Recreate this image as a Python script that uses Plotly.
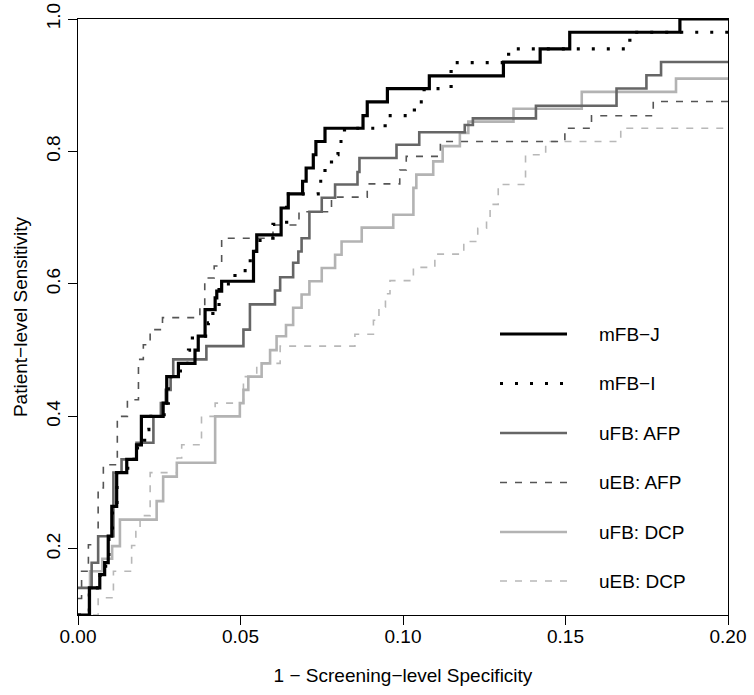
import plotly.graph_objects as go

# ---------------- data ----------------
x_ticks = [0.0, 0.05, 0.10, 0.15, 0.20]
x_tick_labels = ["0.00", "0.05", "0.10", "0.15", "0.20"]
y_ticks = [0.2, 0.4, 0.6, 0.8, 1.0]
y_tick_labels = ["0.2", "0.4", "0.6", "0.8", "1.0"]

series_names = ["mFB−J", "mFB−I", "uFB: AFP", "uEB: AFP", "uFB: DCP", "uEB: DCP"]

mfb_j_x = [0, 0.0035, 0.0067, 0.0082, 0.0093, 0.0104, 0.0119, 0.015, 0.018, 0.0195,
           0.0262, 0.0273, 0.0309, 0.036, 0.037, 0.0391, 0.0422, 0.0427, 0.0442, 0.054,
           0.055, 0.0625, 0.0647, 0.0691, 0.0702, 0.0724, 0.0732, 0.076, 0.0877, 0.089,
           0.0952, 0.1081, 0.1309, 0.1422, 0.1513, 0.1852, 0.2]
mfb_j_y = [0.1, 0.141, 0.161, 0.179, 0.219, 0.264, 0.315, 0.335, 0.357, 0.40,
           0.42, 0.46, 0.48, 0.50, 0.521, 0.561, 0.579, 0.589, 0.604, 0.649,
           0.674, 0.7146, 0.736, 0.755, 0.775, 0.795, 0.815, 0.835, 0.854, 0.875,
           0.895, 0.914, 0.935, 0.955, 0.980, 1.0, 1.0]

mfb_i_x = [0, 0.0035, 0.0068, 0.0085, 0.0095, 0.0106, 0.012, 0.0153, 0.0183, 0.0205,
           0.0218, 0.0265, 0.0278, 0.0315, 0.034, 0.0352, 0.0401, 0.0415, 0.0434, 0.0483,
           0.053, 0.056, 0.060, 0.0642, 0.0739, 0.076, 0.078, 0.080, 0.082, 0.0945,
           0.1035, 0.1065, 0.1148, 0.1325, 0.1698, 0.2]
mfb_i_y = [0.1, 0.141, 0.161, 0.179, 0.219, 0.264, 0.315, 0.335, 0.357, 0.38,
           0.40, 0.42, 0.46, 0.48, 0.50, 0.521, 0.541, 0.561, 0.60, 0.62,
           0.649, 0.669, 0.69, 0.736, 0.755, 0.775, 0.795, 0.815, 0.835, 0.854,
           0.875, 0.895, 0.934, 0.955, 0.98, 0.98]

ufb_afp_x = [0, 0.0042, 0.0062, 0.0109, 0.0134, 0.018, 0.0232, 0.0255, 0.027, 0.0285,
             0.0293, 0.0395, 0.0509, 0.0529, 0.0606, 0.0622, 0.0662, 0.0678, 0.0688, 0.0712,
             0.075, 0.0791, 0.086, 0.0866, 0.098, 0.105, 0.119, 0.1215, 0.1409, 0.1657,
             0.1749, 0.1794, 0.2]
ufb_afp_y = [0.141, 0.179, 0.219, 0.315, 0.335, 0.36, 0.40, 0.42, 0.44, 0.46,
             0.486, 0.506, 0.531, 0.569, 0.590, 0.610, 0.632, 0.649, 0.669, 0.709,
             0.730, 0.750, 0.769, 0.790, 0.810, 0.829, 0.840, 0.850, 0.869, 0.895,
             0.915, 0.935, 0.935]

ueb_afp_x = [0, 0.0011, 0.0032, 0.0062, 0.0078, 0.0121, 0.0152, 0.0186, 0.0201, 0.0222,
             0.026, 0.0375, 0.039, 0.0419, 0.0442, 0.060, 0.068, 0.078, 0.089, 0.099,
             0.101, 0.1115, 0.1498, 0.158, 0.177, 0.2]
ueb_afp_y = [0.125, 0.166, 0.206, 0.292, 0.327, 0.40, 0.425, 0.486, 0.508, 0.531,
             0.549, 0.569, 0.609, 0.627, 0.669, 0.689, 0.709, 0.731, 0.751, 0.772,
             0.7925, 0.815, 0.835, 0.854, 0.8755, 0.8755]

ufb_dcp_x = [0, 0.0037, 0.0075, 0.0105, 0.0129, 0.0242, 0.0262, 0.0304, 0.0422, 0.0498,
             0.0509, 0.0524, 0.0565, 0.0591, 0.0611, 0.064, 0.0662, 0.0688, 0.0712, 0.075,
             0.0791, 0.0811, 0.0873, 0.097, 0.1032, 0.1041, 0.1093, 0.1122, 0.1175, 0.1201,
             0.134, 0.155, 0.184, 0.2]
ufb_dcp_y = [0.1, 0.166, 0.185, 0.204, 0.244, 0.272, 0.309, 0.33, 0.40, 0.42,
             0.44, 0.46, 0.48, 0.50, 0.521, 0.538, 0.564, 0.584, 0.604, 0.624,
             0.644, 0.664, 0.685, 0.7045, 0.745, 0.765, 0.785, 0.808, 0.828, 0.845,
             0.8645, 0.89, 0.91, 0.91]

ueb_dcp_x = [0, 0.0062, 0.0109, 0.0165, 0.0178, 0.0191, 0.0222, 0.0305, 0.0319, 0.038,
             0.0422, 0.0509, 0.055, 0.0622, 0.0852, 0.0909, 0.0926, 0.0946, 0.096, 0.1032,
             0.1098, 0.1187, 0.123, 0.1257, 0.1268, 0.1293, 0.1377, 0.1439, 0.167, 0.2]
ueb_dcp_y = [0.1, 0.126, 0.166, 0.205, 0.226, 0.25, 0.315, 0.337, 0.357, 0.40,
             0.42, 0.46, 0.48, 0.506, 0.524, 0.545, 0.565, 0.585, 0.605, 0.625,
             0.645, 0.664, 0.684, 0.70, 0.72, 0.75, 0.795, 0.815, 0.835, 0.835]

# ---------------- styles ----------------
styles = {
    "mFB−J":    dict(color="#000000", width=3.2, dash="solid"),
    "mFB−I":    dict(color="#000000", width=3.2, dash="3px,12px"),
    "uFB: AFP": dict(color="#666666", width=2.6, dash="solid"),
    "uEB: AFP": dict(color="#555555", width=1.6, dash="7px,8px"),
    "uFB: DCP": dict(color="#b3b3b3", width=2.6, dash="solid"),
    "uEB: DCP": dict(color="#b8b8b8", width=1.6, dash="7px,8px"),
}
curves = {
    "mFB−J": (mfb_j_x, mfb_j_y),
    "mFB−I": (mfb_i_x, mfb_i_y),
    "uFB: AFP": (ufb_afp_x, ufb_afp_y),
    "uEB: AFP": (ueb_afp_x, ueb_afp_y),
    "uFB: DCP": (ufb_dcp_x, ufb_dcp_y),
    "uEB: DCP": (ueb_dcp_x, ueb_dcp_y),
}
draw_order = ["uEB: DCP", "uFB: DCP", "uEB: AFP", "uFB: AFP", "mFB−I", "mFB−J"]

FONT = "Liberation Sans, Arial, Helvetica, sans-serif"

fig = go.Figure()
for name in draw_order:
    xs, ys = curves[name]
    st = styles[name]
    fig.add_trace(go.Scatter(
        x=xs, y=ys, mode="lines", name=name,
        line=dict(color=st["color"], width=st["width"], dash=st["dash"], shape="hv"),
        showlegend=False, hoverinfo="skip",
    ))

# ---------------- manual legend (R style, no box) ----------------
legend_rows_px = [334, 383.5, 433, 482.5, 532, 581]
plot_left, plot_right, plot_top, plot_bottom = 78, 728, 19, 615
pw, ph = plot_right - plot_left, plot_bottom - plot_top
def px_x(p):
    return (p - plot_left) / pw
def px_y(p):
    return (plot_bottom - p) / ph

for name, ry in zip(series_names, legend_rows_px):
    st = styles[name]
    fig.add_shape(type="line", xref="paper", yref="paper",
                  x0=px_x(500), x1=px_x(567), y0=px_y(ry), y1=px_y(ry),
                  line=dict(color=st["color"], width=st["width"], dash=st["dash"]))
    fig.add_annotation(xref="paper", yref="paper", x=px_x(597), y=px_y(ry),
                       text=name, showarrow=False, xanchor="left", yanchor="middle",
                       font=dict(family=FONT, size=19, color="#000000"))

fig.update_layout(
    width=754, height=695,
    margin=dict(l=plot_left, r=754 - plot_right, t=plot_top, b=695 - plot_bottom,
                autoexpand=False),
    plot_bgcolor="white", paper_bgcolor="white",
    font=dict(family=FONT, size=19, color="#000000"),
    showlegend=False,
)
fig.update_xaxes(
    range=[0, 0.2], tickvals=x_ticks, ticktext=x_tick_labels,
    ticks="outside", ticklen=9, tickwidth=1, tickcolor="#000000",
    ticklabelstandoff=-5,
    showline=True, linecolor="#000000", linewidth=1, mirror=True,
    showgrid=False, zeroline=False, automargin=False,
    tickfont=dict(family=FONT, size=19),
    title=dict(text="1 − Screening−level Specificity", standoff=22,
               font=dict(family=FONT, size=19)),
)
fig.update_yaxes(
    range=[0.1, 1.0], tickvals=y_ticks, ticktext=y_tick_labels,
    ticks="outside", ticklen=9, tickwidth=1, tickcolor="#000000", tickangle=-90,
    showline=True, linecolor="#000000", linewidth=1, mirror=True,
    showgrid=False, zeroline=False, automargin=False,
    tickfont=dict(family=FONT, size=19),
    title=dict(text="Patient−level Sensitivity", standoff=10,
               font=dict(family=FONT, size=19)),
)

fig.write_html("out.html",
               config={"displayModeBar": False},
               post_script="document.body.style.margin='0';document.body.style.padding='0';")
